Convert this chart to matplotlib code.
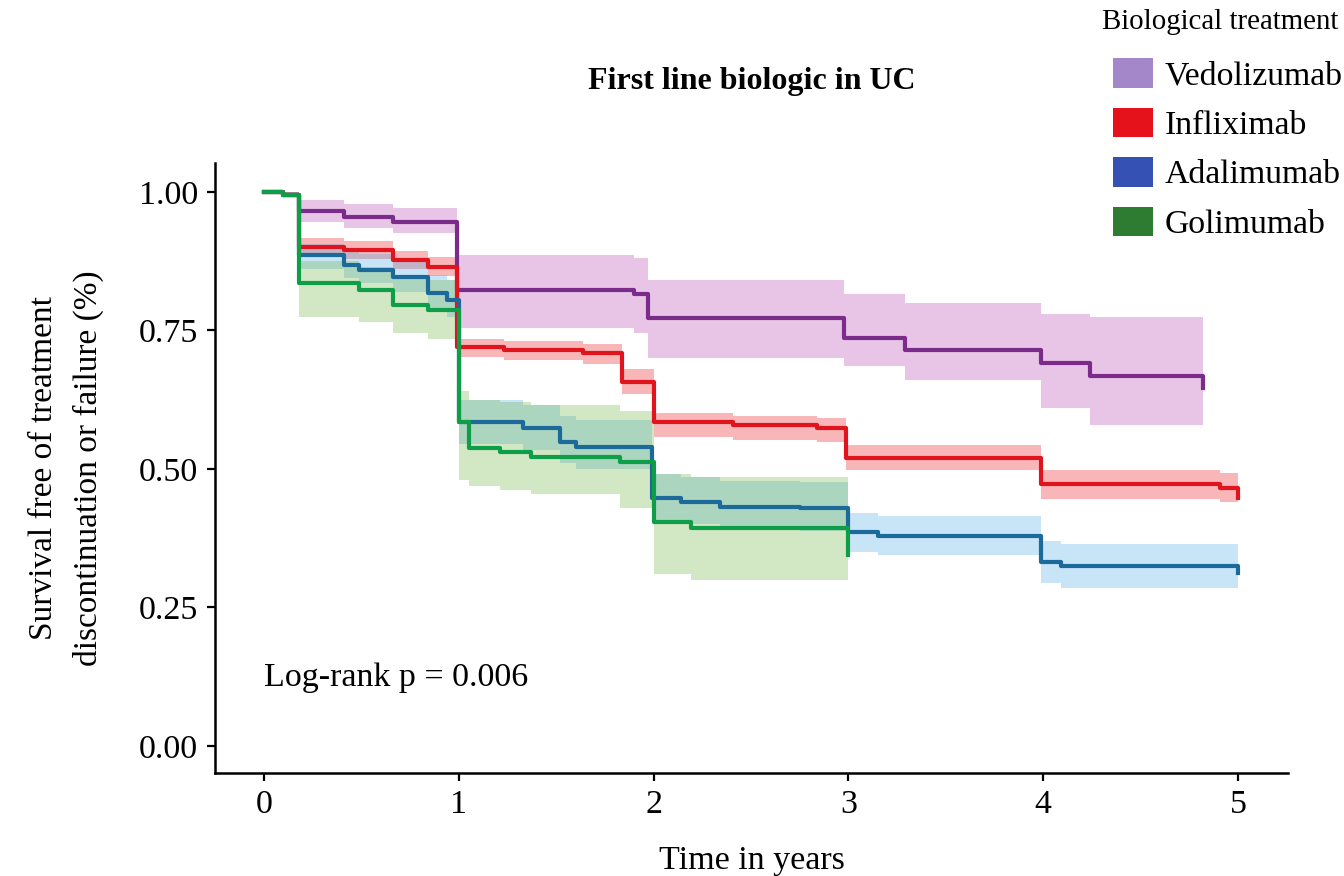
import numpy as np
import matplotlib.pyplot as plt
from matplotlib.patches import Patch

plt.rcParams['font.family'] = ['Liberation Serif', 'DejaVu Serif']

# Kaplan-Meier step points (time in years, survival, lower CI, upper CI)
ved_t = [0, 0.10, 0.18, 0.41, 0.66, 0.99, 1.90, 1.97, 2.98, 3.29, 3.99, 4.24, 4.82]
ved_s = [1.0, 0.995, 0.965, 0.955, 0.946, 0.823, 0.815, 0.773, 0.736, 0.715, 0.691, 0.668, 0.646]
ved_lo = [1.0, 0.99, 0.945, 0.935, 0.925, 0.755, 0.745, 0.70, 0.685, 0.66, 0.61, 0.58, 0.545]
ved_hi = [1.0, 1.0, 0.985, 0.978, 0.97, 0.886, 0.880, 0.84, 0.815, 0.80, 0.78, 0.775, 0.77]

inf_t = [0, 0.10, 0.18, 0.41, 0.66, 0.84, 0.99, 1.23, 1.64, 1.84, 2.0, 2.41, 2.84, 2.99, 3.99, 4.91, 5.0]
inf_s = [1.0, 0.995, 0.901, 0.895, 0.877, 0.865, 0.72, 0.715, 0.709, 0.657, 0.585, 0.579, 0.574, 0.52, 0.472, 0.466, 0.448]
inf_lo = [1.0, 0.99, 0.885, 0.879, 0.860, 0.848, 0.702, 0.697, 0.690, 0.635, 0.558, 0.553, 0.548, 0.498, 0.446, 0.440, 0.43]
inf_hi = [1.0, 1.0, 0.917, 0.911, 0.894, 0.882, 0.735, 0.731, 0.726, 0.680, 0.60, 0.596, 0.592, 0.543, 0.498, 0.493, 0.47]

ada_t = [0, 0.10, 0.18, 0.41, 0.49, 0.66, 0.84, 0.94, 1.0, 1.33, 1.52, 1.60, 1.99, 2.14, 2.34, 2.75, 3.0, 3.15, 3.99, 4.09, 5.0]
ada_s = [1.0, 0.995, 0.886, 0.868, 0.859, 0.847, 0.818, 0.805, 0.585, 0.574, 0.549, 0.54, 0.448, 0.441, 0.432, 0.43, 0.386, 0.379, 0.332, 0.324, 0.312]
ada_lo = [1.0, 0.99, 0.86, 0.845, 0.835, 0.82, 0.79, 0.775, 0.545, 0.535, 0.51, 0.50, 0.405, 0.40, 0.39, 0.388, 0.35, 0.345, 0.295, 0.285, 0.27]
ada_hi = [1.0, 1.0, 0.905, 0.895, 0.888, 0.88, 0.85, 0.84, 0.625, 0.615, 0.595, 0.588, 0.49, 0.485, 0.478, 0.476, 0.42, 0.415, 0.37, 0.365, 0.36]

gol_t = [0, 0.10, 0.18, 0.49, 0.66, 0.84, 1.0, 1.05, 1.21, 1.37, 1.83, 2.0, 2.19, 3.0]
gol_s = [1.0, 0.995, 0.836, 0.823, 0.796, 0.787, 0.585, 0.538, 0.531, 0.522, 0.513, 0.404, 0.393, 0.345]
gol_lo = [1.0, 0.99, 0.775, 0.765, 0.745, 0.735, 0.48, 0.47, 0.462, 0.455, 0.43, 0.31, 0.30, 0.30]
gol_hi = [1.0, 1.0, 0.875, 0.865, 0.85, 0.84, 0.64, 0.625, 0.62, 0.615, 0.605, 0.49, 0.485, 0.485]

groups = ['Vedolizumab', 'Infliximab', 'Adalimumab', 'Golimumab']
line_cols = ['#7b2c8b', '#e0141c', '#1b6a9a', '#0f9e48']
band_cols = ['#b541b2', '#e80f16', '#4ba8e5', '#6cb541']
key_cols = ['#a487c8', '#e5121b', '#3551b3', '#2e7b32']

fig = plt.figure(figsize=(13.44, 8.76), dpi=100)
ax = fig.add_axes([215/1344, 1-773/876, (1288-215)/1344, (773-163)/876])

curves = [(ved_t, ved_s, ved_lo, ved_hi),
          (inf_t, inf_s, inf_lo, inf_hi),
          (ada_t, ada_s, ada_lo, ada_hi),
          (gol_t, gol_s, gol_lo, gol_hi)]

# confidence bands first, lines on top
for (t, s, lo, hi), bc in zip(curves, band_cols):
    ax.fill_between(t, lo, hi, step='post', color=bc, alpha=0.3, lw=0)
for (t, s, lo, hi), lc in zip(curves, line_cols):
    ax.step(t, s, where='post', color=lc, lw=3)

ax.set_xlim(-0.2515, 5.257)
ax.set_ylim(-0.0487, 1.052)
ax.set_xticks(np.arange(0, 6))
ax.set_yticks([0, 0.25, 0.5, 0.75, 1.0])
ax.set_yticklabels(['0.00', '0.25', '0.50', '0.75', '1.00'])
for side in ['top', 'right']:
    ax.spines[side].set_visible(False)
for side in ['left', 'bottom']:
    ax.spines[side].set_linewidth(1.8)
ax.tick_params(length=6, width=1.6, labelsize=24.5, pad=6, color='black')

ax.set_xlabel('Time in years', fontsize=24.5, labelpad=18)
ax.set_ylabel('Survival free of treatment\ndiscontinuation or failure (%)', fontsize=24,
              multialignment='center', linespacing=1.55)
ax.yaxis.set_label_coords(-0.1035, 0.5)

ax.text(0, 0.123, 'Log-rank p = 0.006', fontsize=24.5, va='center', ha='left')

fig.text(752/1344, 1-82/876, 'First line biologic in UC', fontsize=23,
         fontweight='bold', ha='center', va='center')

# legend, title written separately so it sits a little left of the keys
fig.text(1102/1344, 1-22/876, 'Biological treatment', fontsize=20.8,
         ha='left', va='center')
handles = [Patch(facecolor=c, edgecolor='none') for c in key_cols]
fig.legend(handles, groups, loc='upper left',
           bbox_to_anchor=(1113/1344, 1-58/876), frameon=False,
           fontsize=24.3, handlelength=1.18, handleheight=0.97,
           handletextpad=0.35, labelspacing=0.48, borderaxespad=0, borderpad=0)

plt.savefig('out.png', dpi=100)
